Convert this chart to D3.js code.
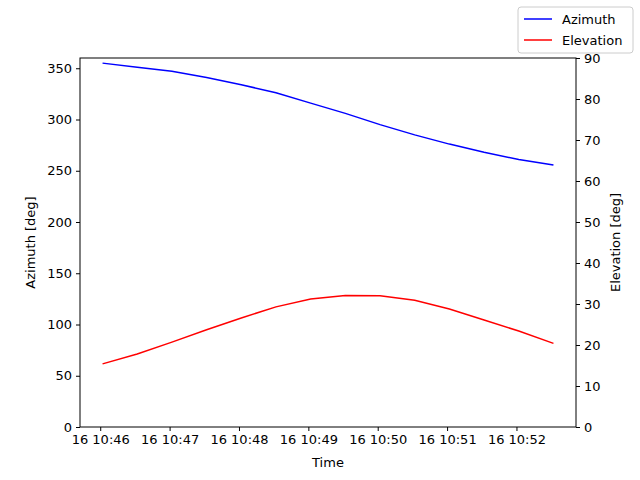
<!DOCTYPE html>
<html>
<head>
<meta charset="utf-8">
<script src="https://cdn.jsdelivr.net/npm/d3@7"></script>
<style>
body { margin: 0; background: #fff; }
text { font-family: "DejaVu Sans", sans-serif; }
</style>
</head>
<body>
<svg id="chart" width="640" height="480"></svg>
<script>
// samples every 30 s starting 10:46:02
var startTime = new Date(2024, 0, 16, 10, 46, 2);
var stepSeconds = 30;
var azimuth = [355, 351, 347, 341, 334, 326, 316, 306, 295, 285, 276, 268, 261, 255.5];
var elevation = [15.4, 17.8, 20.7, 23.7, 26.6, 29.3, 31.2, 32.1, 32.0, 30.9, 28.8, 26.1, 23.4, 20.4];
var timeTicks = [46, 47, 48, 49, 50, 51, 52];
var azTicks = [0, 50, 100, 150, 200, 250, 300, 350];
var elTicks = [0, 10, 20, 30, 40, 50, 60, 70, 80, 90];

var times = azimuth.map(function (d, i) {
    return new Date(startTime.getTime() + i * stepSeconds * 1000);
});

var margin = { top: 58, right: 64, bottom: 53, left: 80 };
var width = 640 - margin.left - margin.right;
var height = 480 - margin.top - margin.bottom;

var svg = d3.select("#chart");
var g = svg.append("g").attr("transform", "translate(" + margin.left + "," + margin.top + ")");

var t0 = times[0], t1 = times[times.length - 1];
var pad = (t1 - t0) * 0.05;
var x = d3.scaleTime().domain([new Date(+t0 - pad), new Date(+t1 + pad)]).range([0, width]);
var yL = d3.scaleLinear().domain([0, 360]).range([height, 0]);
var yR = d3.scaleLinear().domain([0, 90]).range([height, 0]);

function styleAxis(sel) {
    sel.selectAll("text").style("font-size", "13px").attr("fill", "#000");
    sel.selectAll("line").attr("stroke", "#000");
    sel.select(".domain").remove();
}

g.append("g").attr("transform", "translate(0," + height + ")")
    .call(d3.axisBottom(x)
        .tickValues(timeTicks.map(function (m) { return new Date(2024, 0, 16, 10, m, 0); }))
        .tickFormat(d3.timeFormat("%d %H:%M")).tickSize(4).tickPadding(4))
    .call(styleAxis);

g.append("g").call(d3.axisLeft(yL).tickValues(azTicks).tickSize(4).tickPadding(4)).call(styleAxis);
g.append("g").attr("transform", "translate(" + width + ",0)")
    .call(d3.axisRight(yR).tickValues(elTicks).tickSize(4).tickPadding(4)).call(styleAxis);

g.append("rect").attr("width", width).attr("height", height)
    .attr("fill", "none").attr("stroke", "#000").attr("stroke-width", 1);

var azLine = d3.line().x(function (d, i) { return x(times[i]); }).y(function (d) { return yL(d); });
var elLine = d3.line().x(function (d, i) { return x(times[i]); }).y(function (d) { return yR(d); });

g.append("path").datum(azimuth).attr("d", azLine).attr("fill", "none").attr("stroke", "blue").attr("stroke-width", 1.5);
g.append("path").datum(elevation).attr("d", elLine).attr("fill", "none").attr("stroke", "red").attr("stroke-width", 1.5);

svg.append("text").attr("x", 328).attr("y", 467).attr("text-anchor", "middle").style("font-size", "13px").text("Time");
svg.append("text").attr("transform", "translate(35," + (margin.top + height / 2) + ") rotate(-90)")
    .attr("text-anchor", "middle").style("font-size", "13px").text("Azimuth [deg]");
svg.append("text").attr("transform", "translate(620," + (margin.top + height / 2) + ") rotate(-90)")
    .attr("text-anchor", "middle").style("font-size", "13px").text("Elevation [deg]");

// legend
var leg = svg.append("g").attr("transform", "translate(518,7)");
leg.append("rect").attr("width", 115).attr("height", 46).attr("rx", 3)
    .attr("fill", "#fff").attr("stroke", "#ccc");
[["Azimuth", "blue"], ["Elevation", "red"]].forEach(function (d, i) {
    var yy = 12 + i * 21;
    leg.append("line").attr("x1", 6).attr("x2", 34).attr("y1", yy).attr("y2", yy)
        .attr("stroke", d[1]).attr("stroke-width", 1.5);
    leg.append("text").attr("x", 44).attr("y", yy + 5).style("font-size", "13px").text(d[0]);
});
</script>
</body>
</html>
